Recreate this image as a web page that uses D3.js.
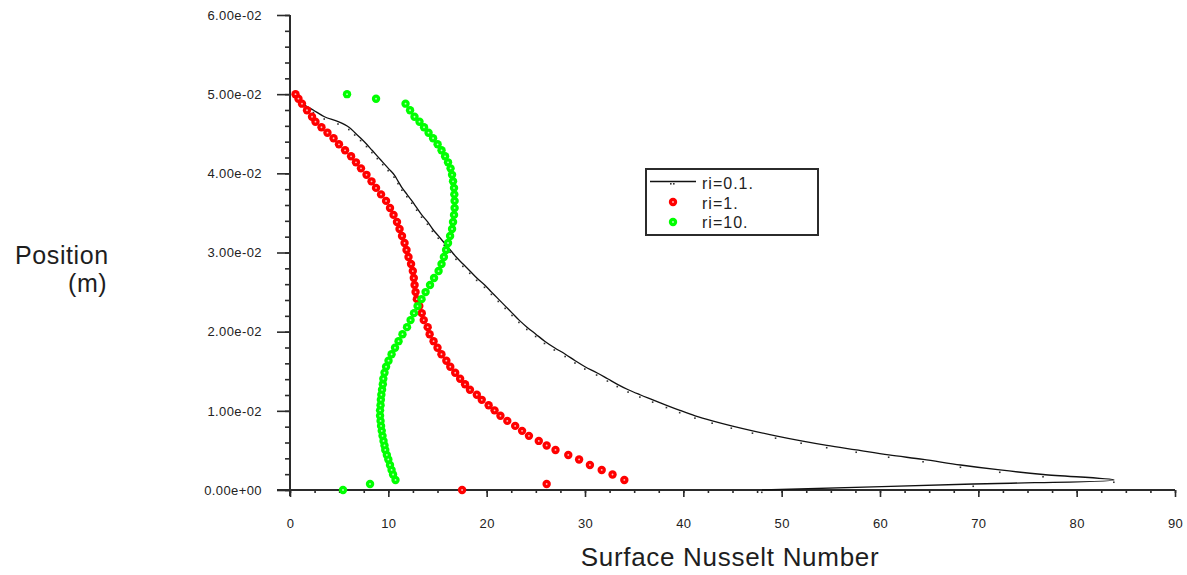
<!DOCTYPE html>
<html>
<head>
<meta charset="utf-8">
<script src="https://cdn.jsdelivr.net/npm/d3@7"></script>
<style>
  body { margin: 0; background: #fff; }
  svg { display: block; font-family: "Liberation Sans", Arial, sans-serif; }
</style>
</head>
<body>
<div id="chart"></div>
<script>
// wall positions (m), shared by all three runs
const positions = [0, 0.00076, 0.00127, 0.00196, 0.00253, 0.00316, 0.00386, 0.00443, 0.00506, 0.00563,
  0.00620, 0.00684, 0.00747, 0.00810, 0.00873, 0.00937, 0.01006, 0.01070, 0.01139, 0.01203,
  0.01266, 0.01335, 0.01405, 0.01481, 0.01557, 0.01633, 0.01715, 0.01797, 0.01880, 0.01968,
  0.02057, 0.02146, 0.02234, 0.02323, 0.02411, 0.02500, 0.02589, 0.02677, 0.02766, 0.02854,
  0.02943, 0.03032, 0.03120, 0.03209, 0.03297, 0.03386, 0.03475, 0.03563, 0.03652, 0.03734,
  0.03816, 0.03899, 0.03981, 0.04063, 0.04139, 0.04215, 0.04291, 0.04367, 0.04443, 0.04513,
  0.04582, 0.04652, 0.04715, 0.04797, 0.04880, 0.04943, 0.05000];

// surface nusselt number for each run, same order as positions
const nuRi01 = [48.0, 69.5, 83.8, 76.6, 72.2, 68.2, 64.4, 60.9, 57.6, 54.6,
  52.0, 49.4, 47.05, 44.9, 42.95, 41.2, 39.65, 38.3, 36.9, 35.6,
  34.4, 33.3, 32.3, 31.2, 30.0, 29.0, 28.0, 26.9, 25.9, 25.0,
  24.1, 23.3, 22.6, 21.9, 21.2, 20.5, 19.8, 19.0, 18.3, 17.6,
  16.9, 16.3, 15.7, 15.1, 14.5, 14.0, 13.4, 12.9, 12.4, 11.9,
  11.4, 11.0, 10.6, 10.0, 9.45, 8.9, 8.35, 7.8, 7.2, 6.6,
  6.0, 4.9, 3.5, 2.4, 1.3, 0.9, 0.6];

const nuRi1 = [17.5, 26.1, 34.0, 32.8, 31.7, 30.5, 29.4, 28.3, 27.0, 26.1,
  25.3, 24.3, 23.6, 22.9, 22.1, 21.4, 20.8, 20.2, 19.5, 19.0,
  18.3, 17.8, 17.3, 16.8, 16.3, 15.9, 15.4, 15.0, 14.6, 14.2,
  14.0, 13.6, 13.4, 13.15, 12.9, 12.77, 12.67, 12.59, 12.49, 12.31,
  12.05, 11.85, 11.65, 11.39, 11.14, 10.88, 10.53, 10.17, 9.77, 9.26,
  8.75, 8.29, 7.78, 7.22, 6.71, 6.21, 5.60, 4.98, 4.43, 3.81,
  3.20, 2.59, 2.24, 1.73, 1.22, 0.86, 0.56];

const nuRi10 = [5.39, 8.14, 10.73, 10.48, 10.33, 10.17, 10.00, 9.85, 9.69, 9.61,
  9.51, 9.41, 9.33, 9.26, 9.21, 9.16, 9.16, 9.21, 9.24, 9.29,
  9.36, 9.44, 9.49, 9.61, 9.77, 10.02, 10.33, 10.68, 11.04, 11.44,
  11.90, 12.26, 12.61, 12.97, 13.38, 13.79, 14.24, 14.65, 15.11, 15.41,
  15.65, 15.87, 16.07, 16.28, 16.48, 16.58, 16.68, 16.74, 16.74, 16.71,
  16.68, 16.58, 16.48, 16.33, 16.07, 15.77, 15.41, 15.01, 14.55, 14.09,
  13.63, 13.17, 12.66, 12.21, 11.75, 8.75, 5.80];

const seriesNames = ['ri=0.1.', 'ri=1.', 'ri=10.'];
const xTicks = [0, 10, 20, 30, 40, 50, 60, 70, 80, 90];
const yTicks = [0, 0.01, 0.02, 0.03, 0.04, 0.05, 0.06];
const yTickLabels = ['0.00e+00', '1.00e-02', '2.00e-02', '3.00e-02', '4.00e-02', '5.00e-02', '6.00e-02'];

const width = 1187, height = 575;
const axisColor = '#2b2b2b';

const svg = d3.select('#chart').append('svg')
  .attr('width', width)
  .attr('height', height);

const x = d3.scaleLinear().domain([0, 90]).range([290, 1175]);
const y = d3.scaleLinear().domain([0, 0.06]).range([490, 15]);

// minor ticks first so the major ones sit on top
svg.append('g')
  .attr('transform', 'translate(290,0)')
  .call(d3.axisLeft(y).tickValues(d3.range(0, 0.0601, 0.002)).tickSize(5).tickFormat(''))
  .call(g => g.select('.domain').remove());

svg.append('g')
  .attr('transform', 'translate(0,490)')
  .call(d3.axisBottom(x).tickValues(d3.range(0, 90.1, 2.5)).tickSize(3).tickFormat(''))
  .call(g => g.select('.domain').remove());

const yAxis = svg.append('g')
  .attr('transform', 'translate(290,0)')
  .call(d3.axisLeft(y).tickValues(yTicks).tickSize(13).tickPadding(15)
    .tickFormat((d, i) => yTickLabels[i]));
yAxis.select('.domain').remove();

const xAxis = svg.append('g')
  .attr('transform', 'translate(0,490)')
  .call(d3.axisBottom(x).tickValues(xTicks).tickSize(7).tickPadding(22));
xAxis.select('.domain').remove();

svg.selectAll('.tick line').attr('stroke', axisColor).attr('stroke-width', 1.6);
svg.selectAll('.tick text')
  .attr('fill', '#222')
  .style('font-size', '13px')
  .style('letter-spacing', '0.4px');

// axis lines
svg.append('line').attr('x1', 290).attr('x2', 290).attr('y1', y(0.06)).attr('y2', 496)
  .attr('stroke', axisColor).attr('stroke-width', 2);
svg.append('line').attr('x1', 277).attr('x2', x(90)).attr('y1', 490).attr('y2', 490)
  .attr('stroke', axisColor).attr('stroke-width', 2);

// ri=0.1 : line
const blackPts = positions.map((p, i) => [nuRi01[i], p]);
svg.append('path')
  .datum(blackPts)
  .attr('fill', 'none')
  .attr('stroke', '#111')
  .attr('stroke-width', 1.3)
  .attr('d', d3.line().curve(d3.curveCatmullRom.alpha(0.5)).x(d => x(d[0])).y(d => y(d[1])));

svg.append('g').selectAll('rect')
  .data(blackPts)
  .join('rect')
  .attr('x', d => x(d[0]) - 1)
  .attr('y', d => y(d[1]) + 1.5)
  .attr('width', 1.6)
  .attr('height', 1.6)
  .attr('fill', '#333');

function drawDots(vals, color) {
  const g = svg.append('g');
  const pts = positions.map((p, i) => [vals[i], p]);
  g.selectAll('circle.dot')
    .data(pts)
    .join('circle')
    .attr('class', 'dot')
    .attr('cx', d => x(d[0]))
    .attr('cy', d => y(d[1]))
    .attr('r', 4.2)
    .attr('fill', color);
  g.selectAll('circle.hi')
    .data(pts)
    .join('circle')
    .attr('class', 'hi')
    .attr('cx', d => x(d[0]))
    .attr('cy', d => y(d[1]))
    .attr('r', 0.9)
    .attr('fill', '#fff')
    .attr('opacity', 0.75);
}

drawDots(nuRi1, '#ff0000');
drawDots(nuRi10, '#00ff00');

// legend
const legend = svg.append('g');
legend.append('rect')
  .attr('x', 646).attr('y', 169).attr('width', 172).attr('height', 66)
  .attr('fill', '#fff').attr('stroke', '#2b2b2b').attr('stroke-width', 2);
legend.append('line')
  .attr('x1', 650).attr('x2', 696).attr('y1', 181.5).attr('y2', 181.5)
  .attr('stroke', '#111').attr('stroke-width', 1.3);
legend.append('rect').attr('x', 670).attr('y', 183).attr('width', 1.6).attr('height', 1.6).attr('fill', '#333');
legend.append('rect').attr('x', 673).attr('y', 183).attr('width', 1.6).attr('height', 1.6).attr('fill', '#333');
[['#ff0000', 202], ['#00ff00', 222]].forEach(([c, cy]) => {
  legend.append('circle').attr('cx', 673).attr('cy', cy).attr('r', 4.2).attr('fill', c);
  legend.append('circle').attr('cx', 673).attr('cy', cy).attr('r', 0.9).attr('fill', '#fff').attr('opacity', 0.75);
});
legend.selectAll('text')
  .data(seriesNames)
  .join('text')
  .attr('x', 702)
  .attr('y', (d, i) => 189 + i * 19.5)
  .attr('fill', '#222')
  .style('font-size', '16px')
  .style('letter-spacing', '1px')
  .text(d => d);

// axis titles
svg.append('text')
  .attr('x', 15).attr('y', 264)
  .attr('fill', '#1e1e1e')
  .style('font-size', '25px')
  .style('letter-spacing', '0.6px')
  .text('Position');
svg.append('text')
  .attr('x', 68).attr('y', 292)
  .attr('fill', '#1e1e1e')
  .style('font-size', '25px')
  .style('letter-spacing', '0.6px')
  .text('(m)');
svg.append('text')
  .attr('x', 730).attr('y', 566)
  .attr('text-anchor', 'middle')
  .attr('fill', '#1e1e1e')
  .style('font-size', '26px')
  .style('letter-spacing', '0.7px')
  .text('Surface Nusselt Number');
</script>
</body>
</html>
